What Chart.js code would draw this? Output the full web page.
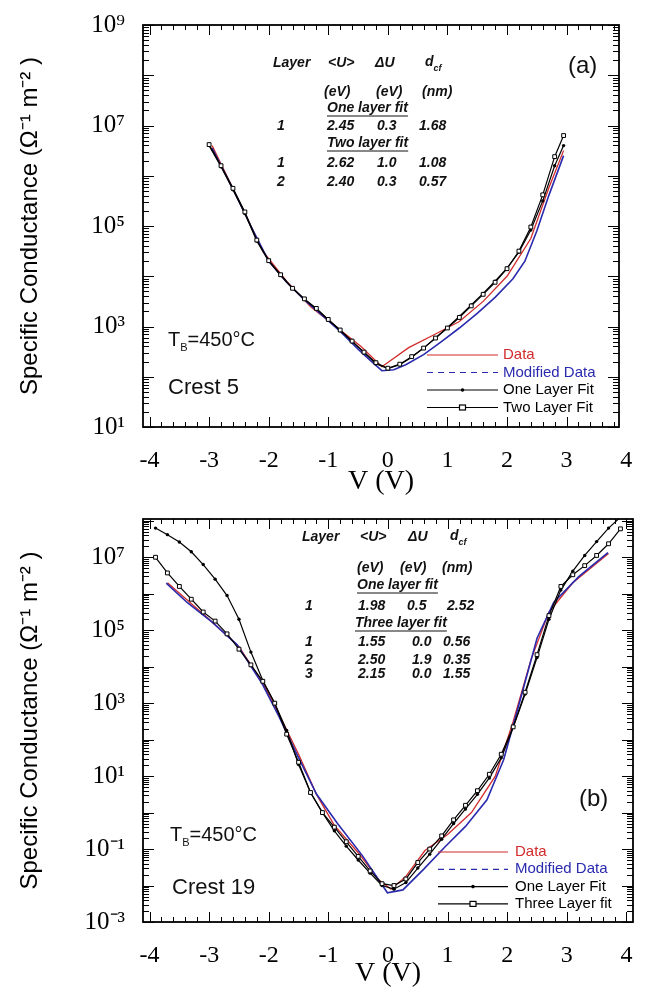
<!DOCTYPE html>
<html>
<head>
<meta charset="utf-8">
<script src="https://cdn.jsdelivr.net/npm/chart.js@4.4.0/dist/chart.umd.min.js"></script>
<style>
  html, body { margin: 0; padding: 0; background: #fff; }
  #wrap { position: relative; width: 647px; height: 994px; overflow: hidden; }
  canvas { position: absolute; left: 0; }
  #panelA { top: 0; }
  #panelB { top: 494px; }
</style>
</head>
<body>
<div id="wrap">
  <canvas id="panelA" width="647" height="500"></canvas>
  <canvas id="panelB" width="647" height="500"></canvas>
</div>
<script>
// Values are log10 of the specific conductance.

// panel (a), Crest 5
const aFitV    = [-3.0, -2.8, -2.6, -2.4, -2.2, -2.0, -1.8, -1.6, -1.4, -1.2, -1.0, -0.8, -0.6, -0.4, -0.2, 0.0,
                  0.2, 0.4, 0.6, 0.8, 1.0, 1.2, 1.4, 1.6, 1.8, 2.0, 2.2, 2.4, 2.6, 2.8, 2.95];
const aOneLog  = [6.60, 6.18, 5.72, 5.25, 4.70, 4.30, 4.02, 3.76, 3.54, 3.35, 3.13, 2.92, 2.70, 2.48, 2.26, 2.16,
                  2.24, 2.39, 2.57, 2.77, 2.98, 3.20, 3.43, 3.66, 3.90, 4.16, 4.48, 4.92, 5.50, 6.20, 6.60];
const aTwoLog  = [6.62, 6.20, 5.75, 5.28, 4.72, 4.31, 4.03, 3.76, 3.55, 3.36, 3.14, 2.93, 2.71, 2.49, 2.28, 2.17,
                  2.25, 2.40, 2.57, 2.77, 2.97, 3.18, 3.41, 3.64, 3.88, 4.15, 4.50, 4.98, 5.62, 6.38, 6.80];
const aModV    = [-2.95, -2.6, -2.3, -2.0, -1.7, -1.4, -1.1, -0.8, -0.5, -0.3, -0.1, 0.1, 0.3, 0.6, 0.9, 1.2,
                  1.5, 1.8, 2.1, 2.3, 2.5, 2.7, 2.95];
const aModLog  = [6.55, 5.74, 5.00, 4.30, 3.88, 3.53, 3.22, 2.90, 2.55, 2.33, 2.12, 2.14, 2.24, 2.44, 2.70, 2.97,
                  3.26, 3.58, 3.95, 4.30, 4.90, 5.60, 6.40];
const aDataV   = [-2.95, -2.5, -2.1, -1.7, -1.3, -0.45, -0.1, 0.35, 0.8, 1.2, 1.6, 2.0, 2.4, 2.7, 2.95];
const aDataLog = [6.60, 5.50, 4.50, 3.90, 3.40, 2.60, 2.20, 2.58, 2.85, 3.10, 3.50, 4.00, 4.75, 5.75, 6.50];

// panel (b), Crest 19
const bFitV     = [-3.9, -3.7, -3.5, -3.3, -3.1, -2.9, -2.7, -2.5, -2.3, -2.1, -1.9, -1.7, -1.5, -1.3, -1.1, -0.9,
                   -0.7, -0.5, -0.3, -0.1, 0.1, 0.3, 0.5, 0.7, 0.9, 1.1, 1.3, 1.5, 1.7, 1.9, 2.1, 2.3, 2.5, 2.7,
                   2.9, 3.1, 3.3, 3.5, 3.7, 3.9];
const bOneLog   = [7.80, 7.62, 7.42, 7.15, 6.80, 6.40, 5.95, 5.30, 4.40, 3.62, 3.00, 2.25, 1.32, 0.55, 0.00, -0.50,
                   -0.92, -1.30, -1.66, -2.00, -2.10, -1.92, -1.52, -1.14, -0.73, -0.30, 0.10, 0.50, 0.95, 1.50,
                   2.33, 3.25, 4.25, 5.30, 6.10, 6.62, 7.05, 7.43, 7.80, 8.10];
const bThreeLog = [7.00, 6.57, 6.20, 5.85, 5.50, 5.25, 4.90, 4.48, 4.05, 3.60, 3.00, 2.15, 1.38, 0.55, 0.00, -0.40,
                   -0.80, -1.20, -1.60, -1.95, -2.00, -1.82, -1.37, -1.00, -0.64, -0.20, 0.20, 0.60, 1.05, 1.60,
                   2.35, 3.30, 4.33, 5.40, 6.20, 6.52, 6.77, 7.05, 7.37, 7.78];
const bModV     = [-3.72, -3.37, -2.95, -2.53, -2.11, -1.83, -1.55, -1.2, -0.85, -0.43, -0.01, 0.25, 0.6, 0.95,
                   1.3, 1.66, 1.94, 2.22, 2.5, 2.78, 3.2, 3.69];
const bModLog   = [6.29, 5.76, 5.22, 4.60, 3.53, 2.64, 1.67, 0.51, -0.29, -1.18, -2.20, -2.12, -1.55, -0.95,
                   -0.38, 0.35, 1.45, 3.10, 4.78, 5.76, 6.47, 7.13];
const bDataV    = [-3.7, -3.0, -2.5, -2.1, -1.8, -1.5, -1.2, -0.9, -0.5, -0.15, 0.05, 0.3, 0.62, 1.0, 1.4, 1.8,
                   2.1, 2.4, 2.7, 3.1, 3.7];
const bDataLog  = [6.30, 5.30, 4.55, 3.55, 2.60, 1.60, 0.50, -0.35, -1.10, -1.85, -2.10, -1.75, -1.04, -0.60,
                   0.00, 1.00, 2.50, 4.20, 5.50, 6.30, 7.10];

// axes
const xMajor     = [-4, -3, -2, -1, 0, 1, 2, 3, 4];
const aLabelExps = [1, 3, 5, 7, 9];
const bLabelExps = [-3, -1, 1, 3, 5, 7];

const RED = '#d22b2b', BLUE = '#2a2aae';
const SERIF = '"Liberation Serif", "Times New Roman", serif';
const SANS = '"Liberation Sans", Arial, sans-serif';
const SUP = { '-': '⁻', '0': '⁰', '1': '¹', '2': '²', '3': '³', '4': '⁴', '5': '⁵', '6': '⁶', '7': '⁷', '8': '⁸', '9': '⁹' };
const sup = n => String(n).split('').map(c => SUP[c]).join('');
const pts = (v, g) => v.map((x, i) => ({ x: x, y: Math.pow(10, g[i]) }));

function datasets(dataV, dataLog, modV, modLog, fitV, oneLog, manyLog, manyLabel) {
  return [
    { label: 'Data', data: pts(dataV, dataLog), borderColor: RED, borderWidth: 1.3, pointRadius: 0, order: 4 },
    { label: 'Modified Data', data: pts(modV, modLog), borderColor: BLUE, borderWidth: 1.6, pointRadius: 0,
      legendDash: [6, 5], order: 3 },
    { label: 'One Layer Fit', data: pts(fitV, oneLog), borderColor: '#000', borderWidth: 1.2, pointRadius: 1.7,
      pointBackgroundColor: '#000', pointBorderWidth: 0, order: 2 },
    { label: manyLabel, data: pts(fitV, manyLog), borderColor: '#000', borderWidth: 1.2, pointStyle: 'rect',
      pointRadius: 2.7, pointBackgroundColor: '#fff', pointBorderWidth: 1, order: 1 }
  ];
}

// inward tick marks on all four sides + the box
const frame = {
  id: 'frame',
  afterDatasetsDraw(chart) {
    const { ctx, chartArea: a, scales: { x, y } } = chart;
    ctx.save();
    ctx.strokeStyle = '#000';
    ctx.lineWidth = 1;
    ctx.beginPath();
    x.ticks.forEach(t => {
      if (t.value < x.min - 1e-9 || t.value > x.max + 1e-9) return;
      const px = Math.round(x.getPixelForValue(t.value)) + 0.5;
      const len = Math.abs(t.value - Math.round(t.value)) < 1e-6 ? 10 : 5;
      ctx.moveTo(px, a.bottom); ctx.lineTo(px, a.bottom - len);
      ctx.moveTo(px, a.top); ctx.lineTo(px, a.top + len);
    });
    y.ticks.forEach(t => {
      if (t.value < y.min * 0.999 || t.value > y.max * 1.001) return;
      const py = Math.round(y.getPixelForValue(t.value)) + 0.5;
      const e = Math.log10(t.value);
      const len = Math.abs(e - Math.round(e)) < 1e-6 ? 11 : 6;
      ctx.moveTo(a.left, py); ctx.lineTo(a.left + len, py);
      ctx.moveTo(a.right, py); ctx.lineTo(a.right - len, py);
    });
    ctx.stroke();
    ctx.lineWidth = 1.8;
    ctx.strokeRect(a.left, a.top, a.right - a.left, a.bottom - a.top);
    ctx.restore();
  }
};

// legend drawn inside the plot box, like the original
function boxLegend(pos) {
  return {
    id: 'boxLegend',
    afterDraw(chart) {
      const ctx = chart.ctx;
      chart.data.datasets.forEach((ds, i) => {
        const y = pos.y + i * pos.rowH;
        const mid = (pos.x0 + pos.x1) / 2;
        ctx.save();
        ctx.strokeStyle = ds.borderColor;
        ctx.lineWidth = 1.2;
        ctx.setLineDash(ds.legendDash || []);
        ctx.beginPath(); ctx.moveTo(pos.x0, y); ctx.lineTo(pos.x1, y); ctx.stroke();
        ctx.setLineDash([]);
        if (ds.pointStyle === 'rect') {
          ctx.fillStyle = '#fff';
          ctx.fillRect(mid - 3, y - 2.5, 6, 5);
          ctx.strokeRect(mid - 3, y - 2.5, 6, 5);
        } else if (ds.pointRadius > 0) {
          ctx.fillStyle = '#000';
          ctx.beginPath(); ctx.arc(mid, y, 1.8, 0, Math.PI * 2); ctx.fill();
        }
        ctx.font = '15px ' + SANS;
        ctx.fillStyle = ds.borderColor;
        ctx.textBaseline = 'middle';
        ctx.fillText(ds.label, pos.tx, y);
        ctx.restore();
      });
    }
  };
}

// free text: parameter table, panel letter, annealing temperature, crest
function notes(items) {
  return {
    id: 'notes',
    afterDraw(chart) {
      const ctx = chart.ctx;
      ctx.save();
      ctx.textBaseline = 'middle';
      ctx.fillStyle = '#111';
      items.forEach(it => {
        let cx = it.x;
        it.runs.forEach(r => {
          ctx.font = r.font;
          ctx.fillText(r.t, cx, it.y + (r.dy || 0));
          cx += ctx.measureText(r.t).width;
        });
        if (it.underline) {
          ctx.lineWidth = 1;
          ctx.strokeStyle = '#111';
          ctx.beginPath(); ctx.moveTo(it.x, it.y + 8); ctx.lineTo(cx, it.y + 8); ctx.stroke();
        }
      });
      ctx.restore();
    }
  };
}

const TBL = 'italic bold 14px ' + SANS;
const TBLS = 'italic bold 9px ' + SANS;
const txt = (x, y, t, font, underline) => ({ x: x, y: y, runs: [{ t: t, font: font }], underline: underline });
const tempNote = (x, y) => ({ x: x, y: y, runs: [
  { t: 'T', font: '20px ' + SANS }, { t: 'B', font: '11px ' + SANS, dy: 8 }, { t: '=450°C', font: '20px ' + SANS }] });
const dHead = (x, y) => ({ x: x, y: y, runs: [{ t: 'd', font: TBL }, { t: 'cf', font: TBLS, dy: 7 }] });

function makePanel(id, o) {
  const xTicks = [];
  for (let i = -41; i <= 41; i++) xTicks.push(Math.round(i * 2) / 10);
  const yTicks = [];
  for (let e = o.eMin; e <= o.eMax; e++) {
    for (let m = 1; m <= 9; m++) {
      const v = m * Math.pow(10, e);
      if (v >= o.yMin * 0.999 && v <= o.yMax * 1.001) yTicks.push(v);
    }
  }
  xMajor.forEach(v => { if (!xTicks.includes(v)) xTicks.push(v); });
  xTicks.sort((p, q) => p - q);

  return new Chart(document.getElementById(id), {
    type: 'line',
    data: { datasets: o.datasets },
    options: {
      responsive: false,
      devicePixelRatio: 1,
      animation: false,
      layout: { padding: { left: 0, right: o.padRight, top: o.padTop, bottom: 0 } },
      elements: { line: { tension: 0 } },
      plugins: { legend: { display: false }, tooltip: { enabled: false } },
      scales: {
        x: {
          type: 'linear', min: o.xMin, max: o.xMax,
          grid: { display: false }, border: { display: false },
          afterBuildTicks: s => {
            s.ticks = xTicks.filter(v => (v >= s.min - 1e-9 && v <= s.max + 1e-9) || xMajor.includes(v))
                            .map(v => ({ value: v }));
          },
          afterFit: s => { s.height = o.xHeight; },
          ticks: {
            autoSkip: false, maxRotation: 0, padding: 11, color: '#000',
            font: { family: SERIF, size: 24 },
            callback: v => xMajor.includes(v) ? String(v) : ''
          },
          title: { display: true, text: 'V (V)', color: '#000', font: { family: SERIF, size: 28 },
                   padding: { top: 0, bottom: o.xTitlePad } }
        },
        y: {
          type: 'logarithmic', min: o.yMin, max: o.yMax,
          grid: { display: false }, border: { display: false },
          afterBuildTicks: s => { s.ticks = yTicks.map(v => ({ value: v })); },
          afterFit: s => { s.width = 143; },
          ticks: {
            autoSkip: false, padding: 10, color: '#000',
            font: { family: SERIF, size: 25 },
            callback: v => {
              const e = Math.round(Math.log10(v));
              return Math.abs(v / Math.pow(10, e) - 1) < 1e-6 && o.labelExps.includes(e) ? '10' + sup(e) : '';
            }
          },
          title: { display: true, text: 'Specific Conductance (Ω⁻¹ m⁻² )', color: '#000',
                   font: { family: SANS, size: 24 }, padding: { top: 16, bottom: 0 } }
        }
      }
    },
    plugins: [frame, boxLegend(o.legend), notes(o.notes)]
  });
}

makePanel('panelA', {
  datasets: datasets(aDataV, aDataLog, aModV, aModLog, aFitV, aOneLog, aTwoLog, 'Two Layer Fit'),
  xMin: -4.11, xMax: 3.88, yMin: 1e1, yMax: 1e9, eMin: 1, eMax: 9, labelExps: aLabelExps,
  padTop: 22, padRight: 647 - 619, xHeight: 73, xTitlePad: 2,
  legend: { x0: 427, x1: 498, tx: 503, y: 355, rowH: 17.5 },
  notes: [
    txt(273, 63, 'Layer', TBL), txt(328, 63, '<U>', TBL), txt(375, 63, 'ΔU', TBL), dHead(425, 62),
    txt(324, 92, '(eV)', TBL), txt(376, 92, '(eV)', TBL), txt(422, 92, '(nm)', TBL),
    txt(327, 108, 'One layer fit', TBL, true),
    txt(277, 126, '1', TBL), txt(327, 126, '2.45', TBL), txt(377, 126, '0.3', TBL), txt(419, 126, '1.68', TBL),
    txt(327, 143, 'Two layer fit', TBL, true),
    txt(277, 163, '1', TBL), txt(327, 163, '2.62', TBL), txt(377, 163, '1.0', TBL), txt(419, 163, '1.08', TBL),
    txt(277, 182, '2', TBL), txt(327, 182, '2.40', TBL), txt(377, 182, '0.3', TBL), txt(419, 182, '0.57', TBL),
    txt(568, 66, '(a)', '24px ' + SANS),
    tempNote(168, 340),
    txt(168, 388, 'Crest 5', '22px ' + SANS)
  ]
});

// panel (b) canvas sits 494px lower, so its notes are in its own coordinates
makePanel('panelB', {
  datasets: datasets(bDataV, bDataLog, bModV, bModLog, bFitV, bOneLog, bThreeLog, 'Three Layer fit'),
  xMin: -4.11, xMax: 4.11, yMin: 1e-3, yMax: 1.12e8, eMin: -3, eMax: 8, labelExps: bLabelExps,
  padTop: 8, padRight: 647 - 633, xHeight: 72, xTitlePad: 4,
  legend: { x0: 438, x1: 508, tx: 515, y: 358, rowH: 17.3 },
  notes: [
    txt(302, 43, 'Layer', TBL), txt(360, 43, '<U>', TBL), txt(408, 43, 'ΔU', TBL), dHead(450, 42),
    txt(357, 74, '(eV)', TBL), txt(400, 74, '(eV)', TBL), txt(442, 74, '(nm)', TBL),
    txt(357, 91, 'One layer fit', TBL, true),
    txt(305, 112, '1', TBL), txt(358, 112, '1.98', TBL), txt(407, 112, '0.5', TBL), txt(447, 112, '2.52', TBL),
    txt(355, 129, 'Three layer fit', TBL, true),
    txt(305, 148, '1', TBL), txt(358, 148, '1.55', TBL), txt(412, 148, '0.0', TBL), txt(443, 148, '0.56', TBL),
    txt(305, 166, '2', TBL), txt(358, 166, '2.50', TBL), txt(412, 166, '1.9', TBL), txt(443, 166, '0.35', TBL),
    txt(305, 180, '3', TBL), txt(358, 180, '2.15', TBL), txt(412, 180, '0.0', TBL), txt(443, 180, '1.55', TBL),
    txt(579, 305, '(b)', '24px ' + SANS),
    tempNote(170, 341),
    txt(172, 394, 'Crest 19', '22px ' + SANS)
  ]
});
</script>
</body>
</html>
